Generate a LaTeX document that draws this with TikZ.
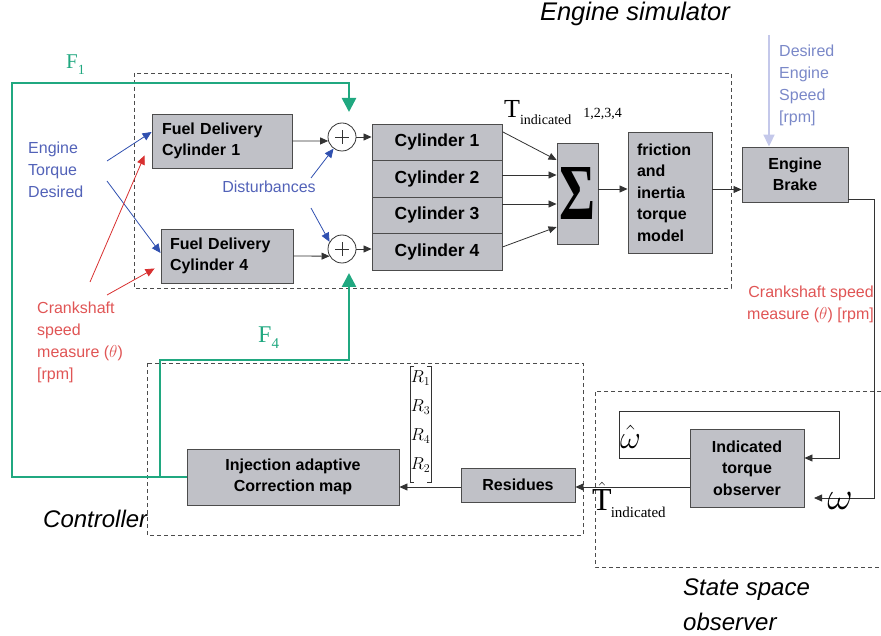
\documentclass[tikz,border=0pt]{standalone}
\usepackage{fontspec}
\setmainfont{Liberation Serif}
\setsansfont{Liberation Sans}
\usepackage{graphicx}
\usetikzlibrary{arrows.meta,calc}
\definecolor{boxgray}{HTML}{C0C1C7}
\definecolor{dblue}{HTML}{5262B8}
\definecolor{ablue}{HTML}{3050B0}
\definecolor{lblue}{HTML}{7A88C8}
\definecolor{pblue}{HTML}{C4C8EA}
\definecolor{dred}{HTML}{E05555}
\definecolor{ared}{HTML}{D83030}
\definecolor{dgreen}{HTML}{20A880}
\newcommand\fsz[2]{\fontsize{#1}{#2}\selectfont}
\begin{document}
\begin{tikzpicture}[x=1pt,y=-1pt,
 blk/.style={draw=black!70, fill=boxgray, line width=0.9pt, inner sep=0pt, font=\sffamily\bfseries\fsz{16}{21.5}},
 arr/.style={draw=black!80, line width=0.8pt, -{Triangle[length=8pt,width=7pt]}},
 dbox/.style={draw=black!70, line width=0.9pt, dash pattern=on 4pt off 3pt},
 grn/.style={draw=dgreen, line width=2.6pt},
 garr/.style={grn, -{Triangle[length=14pt,width=14pt]}},
 parr/.style={draw=pblue, line width=2pt, -{Triangle[length=12pt,width=11pt]}},
 barr/.style={draw=ablue, line width=0.8pt, -{Triangle[length=9pt,width=8pt]}},
 rarr/.style={draw=ared, line width=0.8pt, -{Triangle[length=9pt,width=8pt]}},
 lbl/.style={inner sep=0pt, font=\sffamily\fsz{16}{21.8}},
 ttl/.style={inner sep=0pt, font=\sffamily\itshape\fsz{24}{35}},
 sumc/.style={circle, draw=black!80, fill=white, line width=0.8pt, minimum size=28pt, inner sep=0pt,
   path picture={\draw[black!80,line width=0.8pt]
     ([xshift=-7pt]path picture bounding box.center) -- ([xshift=7pt]path picture bounding box.center)
     ([yshift=-7pt]path picture bounding box.center) -- ([yshift=7pt]path picture bounding box.center);}},
 rv/.style={inner sep=0pt, font=\fsz{18}{18}},
]
\useasboundingbox (0,0) rectangle (881,636);

% dashed frames
\draw[dbox] (134,73) rectangle (731,288);
\draw[dbox] (147,363) rectangle (583,535);
\draw[dbox] (881,391) -- (595,391) -- (595,567) -- (881,567);

% titles
\node[ttl, font=\sffamily\itshape\fsz{25.5}{26}] (tsim) at (635,14) {Engine simulator};
\node[ttl, anchor=west] (tctl) at (43,519) {Controller};
\node[ttl, anchor=west, align=left] (tsso) at (683,605) {State space\\observer};

% blocks
\node[blk, minimum width=140pt, minimum height=54pt, text width=120pt, align=left] (fd1) at (222,141) {Fuel Delivery\\Cylinder 1};
\node[blk, minimum width=132pt, minimum height=54pt, text width=114pt, align=left] (fd4) at (227,256) {Fuel Delivery\\Cylinder 4};
\node[sumc] (s1) at (342,137) {};
\node[sumc] (s2) at (342,249) {};
\node[blk, font=\sffamily\bfseries\fsz{17.5}{20}, minimum width=130pt, minimum height=36.5pt] (c1) at (437,142.25) {Cylinder 1};
\node[blk, font=\sffamily\bfseries\fsz{17.5}{20}, minimum width=130pt, minimum height=36.5pt] (c2) at (437,178.75) {Cylinder 2};
\node[blk, font=\sffamily\bfseries\fsz{17.5}{20}, minimum width=130pt, minimum height=36.5pt] (c3) at (437,215.25) {Cylinder 3};
\node[blk, font=\sffamily\bfseries\fsz{17.5}{20}, minimum width=130pt, minimum height=36.5pt] (c4) at (437,251.75) {Cylinder 4};
\node[blk, minimum width=41pt, minimum height=101pt] (sig) at (577.5,193.5) {\resizebox{36pt}{52pt}{\rmfamily\bfseries\fsz{40}{40}Σ}};
\node[blk, minimum width=84pt, minimum height=121pt, text width=66pt, align=left] (fric) at (670,192.5) {friction\\and\\inertia\\torque\\model};
\node[blk, minimum width=106pt, minimum height=55pt, align=center] (brake) at (795,174.5) {Engine\\Brake};
\node[blk, minimum width=114pt, minimum height=78pt, align=center] (obs) at (747,468) {Indicated\\torque\\observer};
\node[blk, minimum width=114pt, minimum height=34pt] (res) at (518,485) {Residues};
\node[blk, minimum width=212pt, minimum height=56pt, align=center] (inj) at (293,477) {Injection adaptive\\Correction map};

% labels
\node[lbl, text=dblue, align=left, anchor=west] (etd) at (28,170) {Engine\\Torque\\Desired};
\node[lbl, text=dblue] (dist) at (269,187) {Disturbances};
\node[lbl, text=dred, align=left, anchor=west] (crk1) at (37,342.5) {Crankshaft\\speed\\measure ($\theta$)\\{[rpm]}};
\node[lbl, text=dred, align=right, anchor=east] (crk2) at (874,304) {Crankshaft speed\\measure ($\theta$) [rpm]};
\node[lbl, text=lblue, align=left, anchor=west] (des) at (779,85.5) {Desired\\Engine\\Speed\\{[rpm]}};
\node[anchor=base west, inner sep=0pt] (tind) at (504,118) {\fsz{26}{26}T\raisebox{-7pt}{\fsz{14}{14}indicated}\hspace{12pt}{\fsz{14}{14}1,2,3,4}};
\node[anchor=base west, inner sep=0pt, text=dgreen] (f1) at (66,69) {\fsz{21}{21}F\raisebox{-6pt}{\fsz{14}{14}1}};
\node[anchor=base west, inner sep=0pt, text=dgreen] (f4) at (258,342) {\fsz{24}{24}F\raisebox{-6pt}{\fsz{15}{15}4}};
\node[anchor=base west, inner sep=0pt] (that) at (592,510) {\fsz{32}{32}$\hat{\hbox{T}}$\kern-1pt\raisebox{-7pt}{\fsz{15}{15}indicated}};
\node[anchor=base west, inner sep=0pt] (wh) at (620,448) {\fsz{20}{20}\scalebox{1.55}{$\hat{\omega}$}};

% R vector
\draw[black!80, line width=0.9pt] (414,366) -- (410,366) -- (410,482) -- (414,482);
\draw[black!80, line width=0.9pt] (427,366) -- (431,366) -- (431,482) -- (427,482);
\node[rv] (r1) at (420.5,378) {$R_1$};
\node[rv] (r3) at (420.5,407) {$R_3$};
\node[rv] (r4) at (420.5,436) {$R_4$};
\node[rv] (r2) at (420.5,465) {$R_2$};

% black connectors
\draw[arr] (fd1.east) -- (s1.196.6);
\draw[arr] (fd4.east) -- (s2.210);
\draw[arr] (s1.east) -- (s1.east -| c1.west);
\draw[arr] (s2.east) -- (s2.east -| c4.west);
\draw[arr] ([yshift=10.5pt]c1.east) -- ([yshift=33.5pt]sig.west);
\draw[arr] ([yshift=3.75pt]c2.east) -- ([yshift=3.75pt]c2.east -| sig.west);
\draw[arr] ([yshift=11.25pt]c3.east) -- ([yshift=11.25pt]c3.east -| sig.west);
\draw[arr] ([yshift=4.75pt]c4.east) -- ([yshift=-33.5pt]sig.west);
\draw[arr] ([yshift=4.5pt]sig.east) -- ([yshift=4.5pt]sig.east -| fric.west);
\draw[arr] ([yshift=3pt]fric.east) -- ([yshift=3pt]fric.east -| brake.west);
\coordinate (wtip) at (814,498);
\draw[arr] ([yshift=-24.5pt]brake.east) -| (874,498) -- (wtip);
\node[anchor=base, inner sep=0pt] (w) at (840,509) {\fsz{20}{20}\scalebox{1.9}{$\omega$}};
\draw[arr] ([yshift=10pt]obs.west) -- (619,458) -- (619,411) -- (839,411) -- (839,458) -- ([yshift=10pt]obs.east);
\draw[arr] ([yshift=-19pt]obs.west) -- ([yshift=-19pt]obs.west -| res.east);
\draw[arr] ([yshift=-2pt]res.west) -- ([yshift=-2pt]res.west -| inj.east);

% desired speed
\coordinate (dtop) at (769,35);
\draw[parr] (dtop) -- (dtop |- brake.north);

% blue and red input arrows
\coordinate (b1s) at (107,161);
\coordinate (b4s) at (107,181);
\draw[barr] (b1s) -- ([yshift=9pt]fd1.west);
\draw[barr] (b4s) -- ([yshift=3pt]fd4.west);
\coordinate (r1s) at (90,282);
\coordinate (r4s) at (107,295);
\draw[rarr] (r1s) -- ([xshift=-7pt,yshift=13pt]fd1.south west);
\draw[rarr] (r4s) -- ([xshift=-6pt,yshift=15pt]fd4.south west);
\coordinate (d1s) at (311,178);
\coordinate (d2s) at (311,208);
\draw[barr] (d1s) -- (s1.234);
\draw[barr] (d2s) -- (s2.150);

% green feedback
\coordinate (g1) at (349,112);
\coordinate (g4) at (349,273);
\coordinate (gj) at (160,477);
\draw[garr] (inj.west) -| (12,83) -| (g1);
\draw[garr] (gj) -- (160,360) -| (g4);
\end{tikzpicture}
\end{document}
